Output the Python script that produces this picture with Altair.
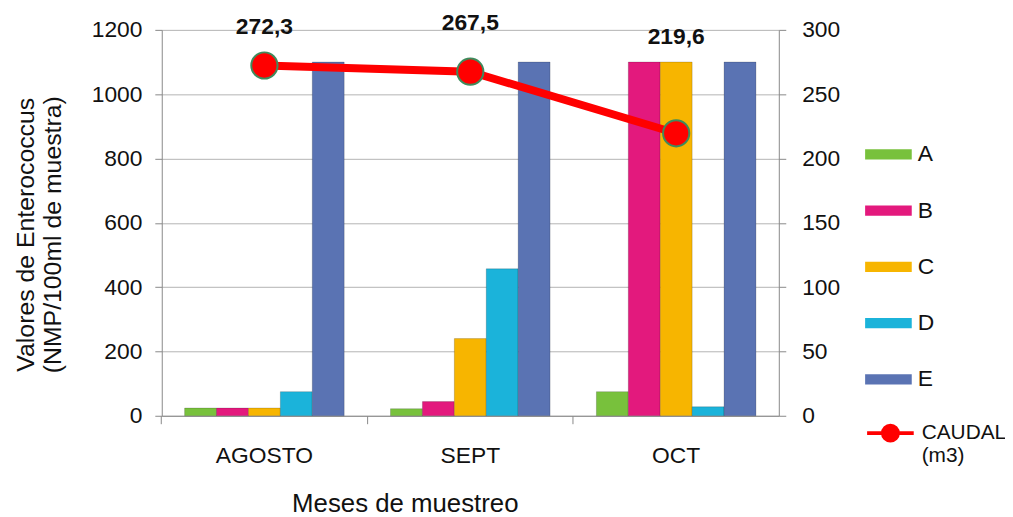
import altair as alt
import pandas as pd

# ---- data ----
meses = ["AGOSTO", "SEPT", "OCT"]
series = ["A", "B", "C", "D", "E"]
valores_A = [24, 22, 75]
valores_B = [24, 44, 1100]
valores_C = [24, 240, 1100]
valores_D = [75, 457, 28]
valores_E = [1100, 1100, 1100]
caudal = [272.3, 267.5, 219.6]
caudal_etiquetas = ["272,3", "267,5", "219,6"]

# ---- styles ----
colores = ["#78c13c", "#e3197d", "#f7b500", "#1bb3da", "#5a73b3"]
FONT = "Liberation Sans"
label_dy = {"AGOSTO": -39, "SEPT": -49, "OCT": -97}

rows = []
for s, vals in zip(series, [valores_A, valores_B, valores_C, valores_D, valores_E]):
    for m, v in zip(meses, vals):
        rows.append({"mes": m, "serie": s, "valor": v})
df_bars = pd.DataFrame(rows)
df_line = pd.DataFrame({"mes": meses, "caudal": caudal,
                        "etiqueta": caudal_etiquetas, "serie": ["CAUDAL"] * 3})

x_scale = alt.Scale(domain=meses, paddingInner=0.225, paddingOuter=0.111)

rect_path = "M-1,-0.22L1,-0.22L1,0.22L-1,0.22Z"
caudal_path = ("M-1,0L1,0"
               "M-0.32,0A0.32,0.32 0 1,0 0.32,0A0.32,0.32 0 1,0 -0.32,0Z")

bars = alt.Chart(df_bars).mark_bar(stroke="#000", strokeOpacity=0.18, strokeWidth=1).encode(
    x=alt.X("mes:N", scale=x_scale, sort=meses,
            axis=alt.Axis(title="Meses de muestreo", ticks=False, labelPadding=29,
                          labelFontSize=23, labelAngle=0, domainColor="#888888",
                          titleFontSize=26, titleFontWeight="normal",
                          titleX=245, titleY=88, titleBaseline="middle")),
    xOffset=alt.XOffset("serie:N", scale=alt.Scale(domain=series, paddingInner=0, paddingOuter=0)),
    y=alt.Y("valor:Q", scale=alt.Scale(domain=[0, 1200], nice=False),
            axis=alt.Axis(title=["Valores de Enterococcus", "(NMP/100ml de muestra)"],
                          values=[0, 200, 400, 600, 800, 1000, 1200], format="d",
                          grid=True, gridColor="#b3b3b3", domainColor="#888888",
                          tickColor="#888888", tickSize=7, labelPadding=13,
                          labelFontSize=23, titleFontSize=25, titleFontWeight="normal",
                          titleX=-124, titleY=206, titleBaseline="bottom")),
    color=alt.Color("serie:N", scale=alt.Scale(domain=series, range=colores),
                    legend=alt.Legend(orient="none", legendX=709, legendY=102, title=None,
                                      direction="vertical", symbolType=rect_path,
                                      symbolSize=2209, rowPadding=20.7, labelFontSize=23,
                                      labelOffset=6, padding=0, labelColor="#111111",
                                      symbolStrokeWidth=0)),
)

y2 = alt.Scale(domain=[0, 300], nice=False)

x_caudal = alt.X("mes:N", scale=x_scale, sort=meses,
                 axis=alt.Axis(bandPosition=-0.144, labels=False, domain=False, title=None,
                               ticks=True, tickSize=8, tickColor="#888888", orient="bottom"))
y_caudal = alt.Y("caudal:Q", scale=y2,
                 axis=alt.Axis(orient="right", values=[0, 50, 100, 150, 200, 250, 300],
                               grid=False, tickSize=7, labelPadding=16, labelFontSize=23,
                               domainColor="#888888", tickColor="#888888", title=None))

line = alt.Chart(df_line).mark_line(strokeWidth=8, strokeCap="butt").encode(
    x=x_caudal,
    y=y_caudal,
    stroke=alt.Stroke("serie:N", scale=alt.Scale(domain=["CAUDAL"], range=["#ff0000"]),
                      legend=alt.Legend(orient="none", legendX=709, legendY=381, title=None,
                                        symbolType=caudal_path, symbolSize=2209,
                                        symbolStrokeWidth=4, symbolFillColor="#ff0000",
                                        labelFontSize=21, labelOffset=6, padding=0,
                                        labelColor="#111111",
                                        labelExpr="['CAUDAL', '(m3)']")),
)

points = alt.Chart(df_line).mark_point(shape="circle", filled=True, fill="#ff0000",
                                       stroke="#3f8a5c", strokeWidth=2, size=700,
                                       opacity=1).encode(
    x=x_caudal,
    y=y_caudal,
)

texts = []
for m in meses:
    texts.append(
        alt.Chart(df_line).transform_filter(alt.datum.mes == m).mark_text(
            font=FONT, fontSize=23, fontWeight="bold", color="#111111", dy=label_dy[m]
        ).encode(
            x=x_caudal,
            y=y_caudal,
            text="etiqueta:N",
        )
    )

caudal_layer = alt.layer(line, points, *texts)

chart = alt.layer(bars, caudal_layer).resolve_scale(y="independent").resolve_axis(
    x="independent"
).properties(
    width=622, height=389, autosize="none",
    padding={"left": 155, "top": 20, "right": 228, "bottom": 100},
).configure_view(stroke=None).configure_axis(
    labelFont=FONT, titleFont=FONT, labelColor="#111111", titleColor="#111111"
).configure_legend(labelFont=FONT)

chart.save("out.html", embed_options={"renderer": "svg", "actions": False})
